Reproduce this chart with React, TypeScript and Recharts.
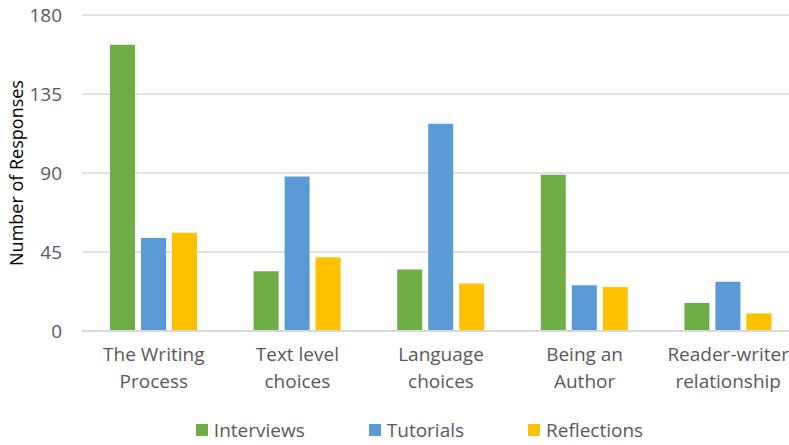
import React from 'react';
import { BarChart, Bar, XAxis, YAxis, CartesianGrid, Legend } from 'recharts';

const categories = [
  ['The Writing', 'Process'],
  ['Text level', 'choices'],
  ['Language', 'choices'],
  ['Being an', 'Author'],
  ['Reader-writer', 'relationship'],
];
const interviews = [163, 34, 35, 89, 16];
const tutorials = [53, 88, 118, 26, 28];
const reflections = [56, 42, 27, 25, 10];
const yTicks = [0, 45, 90, 135, 180];

const series = [
  { key: 'interviews', name: 'Interviews', color: '#70AD47' },
  { key: 'tutorials', name: 'Tutorials', color: '#5B9BD5' },
  { key: 'reflections', name: 'Reflections', color: '#FFC000' },
];

const data = categories.map((lines, i) => ({
  name: lines.join(' '),
  lines,
  interviews: interviews[i],
  tutorials: tutorials[i],
  reflections: reflections[i],
}));

const FONT = '"Open Sans", sans-serif';
const TEXT = '#595959';

const CategoryTick = ({ x, y, payload }: any) => {
  const lines = categories[payload.index] || [payload.value];
  return (
    <text x={x} y={y} textAnchor="middle" fill={TEXT} fontSize={19} fontFamily={FONT}>
      {lines.map((l, i) => (
        <tspan key={i} x={x} dy={i === 0 ? 22 : 27}>{l}</tspan>
      ))}
    </text>
  );
};

const LegendBox = () => (
  <div style={{ display: 'flex', justifyContent: 'center', gap: 64, height: 30, alignItems: 'center', paddingLeft: 50, fontFamily: FONT, fontSize: 19, color: TEXT }}>
    {series.map(s => (
      <div key={s.key} style={{ display: 'flex', alignItems: 'center' }}>
        <span style={{ width: 12, height: 12, background: s.color, marginRight: 6, display: 'inline-block' }} />
        <span>{s.name}</span>
      </div>
    ))}
  </div>
);

const App = () => {
  return (
    <div style={{ position: 'absolute', left: 0, top: 0, width: 789, height: 445, overflow: 'hidden', background: '#fff' }}>
      <BarChart
        width={800}
        height={445}
        data={data}
        margin={{ top: 15, right: 0, bottom: 0, left: 0 }}
        barGap={6}
        barSize={25}
      >
        <CartesianGrid vertical={false} stroke="#D9D9D9" strokeWidth={1.5} />
        <XAxis
          dataKey="name"
          height={84}
          interval={0}
          tickLine={false}
          axisLine={{ stroke: '#D9D9D9', strokeWidth: 2 }}
          tick={<CategoryTick />}
        />
        <YAxis
          width={82}
          domain={[0, 180]}
          ticks={yTicks}
          axisLine={false}
          tickLine={false}
          tickMargin={14}
          tick={{ fill: TEXT, fontSize: 19, fontFamily: FONT }}
          label={{
            content: ({ viewBox }: any) => {
              const cy = viewBox.y + viewBox.height / 2;
              return (
                <text x={16} y={cy} transform={`rotate(-90 16 ${cy})`} textAnchor="middle" dominantBaseline="central" fill="#000" fontSize={18} fontFamily={FONT}>
                  Number of Responses
                </text>
              );
            },
          }}
        />
        <Legend verticalAlign="bottom" content={<LegendBox />} wrapperStyle={{ width: 789 }} />
        {series.map(s => (
          <Bar key={s.key} dataKey={s.key} name={s.name} fill={s.color} isAnimationActive={false} />
        ))}
      </BarChart>
    </div>
  );
};

export default App;
